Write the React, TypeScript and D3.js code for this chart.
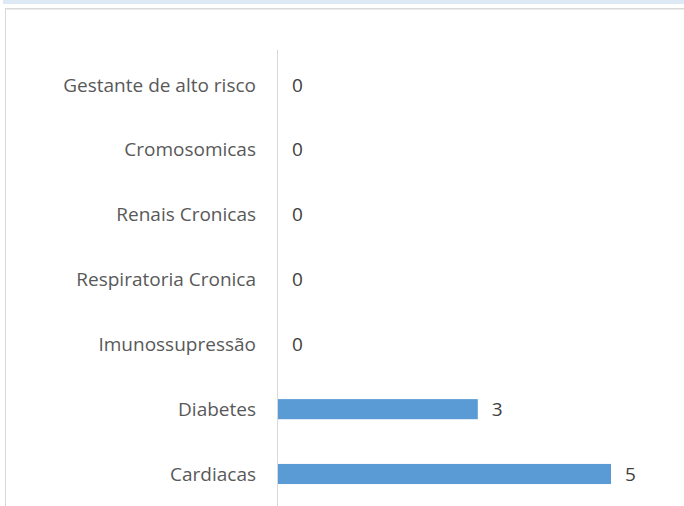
import { useEffect, useRef } from 'react';
import * as d3 from 'd3';

// categories top to bottom, as shown
const categories = [
  'Gestante de alto risco',
  'Cromosomicas',
  'Renais Cronicas',
  'Respiratoria Cronica',
  'Imunossupressão',
  'Diabetes',
  'Cardiacas',
];
const values = [0, 0, 0, 0, 0, 3, 5];

export default function App() {
  const svgRef = useRef<SVGSVGElement>(null);

  useEffect(() => {
    if (!svgRef.current) return;
    const svg = d3.select(svgRef.current);
    svg.selectAll('*').remove();

    const W = 684;
    const H = 506;

    // light strip at the very top
    svg.append('rect')
      .attr('x', 3).attr('y', 0).attr('width', W - 3).attr('height', 4)
      .attr('fill', '#dde9f5');

    // frame of the chart area (runs off to the right and bottom)
    svg.append('rect')
      .attr('x', 5.5).attr('y', 8.5).attr('width', W + 10).attr('height', H + 10)
      .attr('fill', '#fff').attr('stroke', '#d9d9d9').attr('stroke-width', 1);
    svg.append('line')
      .attr('x1', 6.5).attr('x2', W).attr('y1', 9.5).attr('y2', 9.5)
      .attr('stroke', '#ececec');

    const x = d3.scaleLinear().domain([0, 5]).range([278, 611]);

    const y = d3.scaleBand<string>()
      .domain(categories)
      .range([52.6, 506.4])
      .paddingInner(0.69)
      .paddingOuter(0.345);

    // bars
    svg.append('g')
      .selectAll('rect')
      .data(values)
      .join('rect')
      .attr('x', x(0))
      .attr('y', (_, i) => y(categories[i]) || 0)
      .attr('width', d => x(d) - x(0))
      .attr('height', y.bandwidth())
      .attr('fill', '#5b9bd5');

    // vertical axis line
    svg.append('line')
      .attr('x1', 277.5).attr('x2', 277.5)
      .attr('y1', 50).attr('y2', H)
      .attr('stroke', '#d9d9d9').attr('stroke-width', 1);

    // category labels
    svg.append('g')
      .selectAll('text')
      .data(categories)
      .join('text')
      .attr('x', 256)
      .attr('y', d => (y(d) || 0) + y.bandwidth() / 2)
      .attr('dy', '0.35em')
      .attr('text-anchor', 'end')
      .attr('fill', '#595959')
      .style('font-family', '"Open Sans", sans-serif')
      .style('font-size', '19px')
      .text(d => d);

    // value labels
    svg.append('g')
      .selectAll('text')
      .data(values)
      .join('text')
      .attr('x', d => x(d) + 14)
      .attr('y', (_, i) => (y(categories[i]) || 0) + y.bandwidth() / 2)
      .attr('dy', '0.35em')
      .attr('fill', '#404040')
      .style('font-family', '"Open Sans", sans-serif')
      .style('font-size', '19px')
      .text(d => d);
  }, []);

  return (
    <svg
      ref={svgRef}
      width={684}
      height={506}
      style={{ position: 'absolute', left: 0, top: 0, background: '#fff' }}
    />
  );
}
